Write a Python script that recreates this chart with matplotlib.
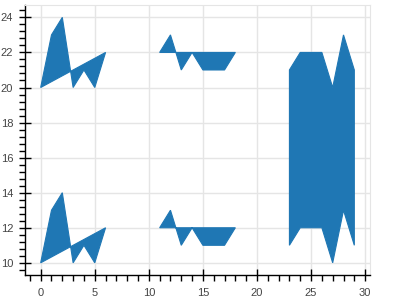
import matplotlib
matplotlib.use('Agg')
import matplotlib.pyplot as plt
from matplotlib.ticker import MultipleLocator

# polygons, one list of x and one of y per shape
shape_xs = [
    [0, 1, 2, 3, 4, 5, 6],
    [0, 1, 2, 3, 4, 5, 6],
    [11, 12, 13, 14, 15, 17, 18],
    [11, 12, 13, 14, 15, 17, 18],
    [23, 24, 26, 27, 28, 29, 29, 28, 27, 26, 24, 23],
]
shape_ys = [
    [20, 23, 24, 20, 21, 20, 22],
    [10, 13, 14, 10, 11, 10, 12],
    [22, 23, 21, 22, 21, 21, 22],
    [12, 13, 11, 12, 11, 11, 12],
    [21, 22, 22, 20, 23, 21, 11, 13, 10, 12, 12, 11],
]

fig = plt.figure(figsize=(4, 3), dpi=100)
ax = fig.add_axes([0.0625, 0.083, 0.8625, 0.9])

for xs, ys in zip(shape_xs, shape_ys):
    ax.fill(xs, ys, facecolor='#1f77b4', edgecolor='#1f77b4', lw=0.8)

ax.set_xlim(-1.45, 30.45)
ax.set_ylim(9.3, 24.7)

ax.xaxis.set_major_locator(MultipleLocator(5))
ax.xaxis.set_minor_locator(MultipleLocator(1))
ax.yaxis.set_major_locator(MultipleLocator(2))
ax.yaxis.set_minor_locator(MultipleLocator(0.4))

ax.grid(True, which='major', color='#e5e5e5', lw=1)
ax.set_axisbelow(True)

for side in ['top', 'right']:
    ax.spines[side].set_color('#e5e5e5')
for side in ['left', 'bottom']:
    ax.spines[side].set_color('black')
    ax.spines[side].set_linewidth(1)

ax.tick_params(which='major', direction='inout', length=8, width=1, color='black',
               labelsize=8, labelcolor='#444444')
ax.tick_params(axis='x', which='major', pad=5.5)
ax.tick_params(axis='y', which='major', pad=4.5)
ax.tick_params(which='minor', direction='out', length=4, width=1, color='black')
for lbl in ax.get_xticklabels() + ax.get_yticklabels():
    lbl.set_fontfamily('Liberation Sans')

fig.savefig('out.png', dpi=100)
